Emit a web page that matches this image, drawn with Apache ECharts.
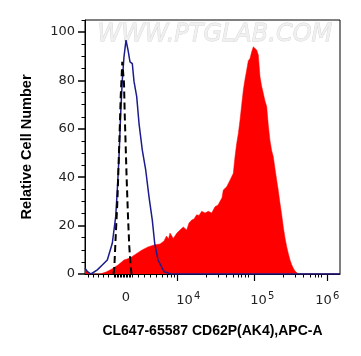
<!DOCTYPE html>
<html><head><meta charset="utf-8">
<script src="https://cdn.jsdelivr.net/npm/echarts@6/dist/echarts.min.js"></script>
<style>html,body{margin:0;padding:0;background:#fff}#c{width:361px;height:356px}</style>
</head><body><div id="c"></div>
<script>
// x in display channels (biexponential display scale), y = relative cell number
const redX = [0, 2, 4, 15, 21, 27, 33, 39, 45, 51, 57, 63, 69, 75, 79, 81.5, 83.5, 85, 88.3, 91.7, 95, 98.3, 101.7, 104, 106.7, 109, 111.7, 114, 116.7, 120, 123.3, 126.7, 130, 133, 135, 137, 138.3, 141.7, 145, 148.3, 150, 151.7, 153.3, 155, 156.7, 158.3, 160, 161.7, 163.3, 165, 166.7, 168.3, 170.3, 171.7, 173.3, 175, 176.7, 178.3, 180, 181.7, 183.3, 185, 186.7, 188.3, 190, 191.7, 193.3, 195, 196.7, 198.3, 200, 201.7, 203.3, 205, 206.7, 208.3, 210, 211.7, 213.3, 255];
const redY = [2.5, 1.0, 0, 0, 0.8, 2.1, 3.7, 5.8, 6.6, 8.3, 9.9, 11.2, 12.0, 12.4, 13.6, 15.7, 14.5, 16.9, 14.7, 16.8, 18.2, 19.4, 18.2, 21.1, 22.3, 22.7, 24.5, 24.2, 25.9, 25.2, 25.9, 25.2, 27.8, 28.5, 29.2, 31.5, 34.7, 36.1, 38.8, 41.6, 48.5, 54.0, 58.0, 63.6, 70.0, 76.0, 80.5, 84.3, 88.2, 89.1, 91.9, 93.9, 94.6, 92.6, 90.5, 81.5, 77.5, 74.7, 71.5, 69.2, 61.5, 55.1, 51.0, 48.5, 43.5, 38.8, 34.4, 29.2, 24.5, 19.4, 14.9, 11.3, 8.5, 5.8, 3.8, 2.4, 1.2, 0.5, 0, 0];

const blueX = [0, 2.5, 6, 12.3, 17, 22.3, 27.3, 30.7, 32.3, 34, 35.7, 37.3, 39, 41, 43, 45, 47.3, 49, 51.7, 54, 57.3, 60.7, 64, 67.3, 69.7, 73, 79, 85.7, 255];
const blueY = [2.4, 1.0, 0, 1.7, 3.6, 5.8, 12.7, 23.7, 34.7, 48.5, 66.4, 80.2, 89.8, 96.7, 92.6, 87.7, 87.0, 79.6, 73.3, 62.3, 51.2, 43.0, 31.9, 22.3, 12.7, 5.8, 1.0, 0, 0];

const blackX = [28.5, 29.3, 30.7, 32.3, 33.3, 34.7, 35.7, 37.3, 38.2, 39, 39.7, 40.7, 41.7, 43, 44.3, 45.7, 46.5];
const blackY = [0, 2.4, 15.6, 29.3, 41.6, 59.5, 73.3, 87.7, 88.0, 78.8, 66.4, 52.6, 38.8, 23.7, 11.3, 3.0, 0];

const xTickLabels = ['0', '10^4', '10^5', '10^6'];
const xLabelPos = [41, 103.3, 177.3, 242.3];
const xMajorTicks = [92.7, 169.5, 242];
const xMinorTicks = [3, 8, 13, 18, 23, 29, 30.5, 32, 33.5, 35, 36.5, 38, 39.5, 41, 42.5, 44, 45.5, 47, 53, 59, 65, 71, 77, 82, 86, 89.5,
  121.7, 133.3, 141.7, 148.3, 153.3, 156.7, 160, 163.3,
  198.3, 210, 218.3, 225, 230, 233.3, 236.7];
const yTickLabels = [0, 20, 40, 60, 80, 100];
const yMinorTicks = [5,10,15,25,30,35,45,50,55,65,70,75,85,90,95,105];

const zip = (a, b) => a.map((v, i) => [v, b[i]]);
const tickFont = 'DejaVu Sans';

const chart = echarts.init(document.getElementById('c'), null, {renderer: 'canvas'});
chart.setOption({
  animation: false,
  backgroundColor: '#fff',
  grid: {left: 85, right: 21, top: 20, bottom: 82, show: true, borderColor: '#000', borderWidth: 1, backgroundColor: 'transparent'},
  graphic: [{
    type: 'text', left: 97, top: 22, z: 0, silent: true,
    style: {text: 'WWW.PTGLAB.COM', font: 'italic 24px "DejaVu Sans"', fill: '#f0f0f0', stroke: '#d4d4d4', lineWidth: 0.8}
  }],
  xAxis: [{
    type: 'value', min: 0, max: 255, gridIndex: 0,
    name: 'CL647-65587 CD62P(AK4),APC-A', nameLocation: 'middle', nameGap: 50,
    nameTextStyle: {fontFamily: 'Liberation Sans', fontWeight: 'bold', fontSize: 14, color: '#000'},
    axisLine: {lineStyle: {color: '#000', width: 1}},
    splitLine: {show: false},
    axisTick: {customValues: xMajorTicks, length: 7, lineStyle: {color: '#000', width: 1.2}},
    axisLabel: {
      customValues: xLabelPos, margin: 17, color: '#222',
      formatter: function (v) {
        let idx = 0, best = 1e9;
        xLabelPos.forEach((p, i) => { if (Math.abs(p - v) < best) { best = Math.abs(p - v); idx = i; } });
        const t = xTickLabels[idx];
        if (t.indexOf('^') >= 0) { const p = t.split('^'); return '{b|' + p[0] + '}{s|' + p[1] + '}'; }
        return '{b|' + t + '}{e| }';
      },
      rich: {
        b: {fontFamily: tickFont, fontSize: 13, color: '#222'},
        s: {fontFamily: tickFont, fontSize: 10, color: '#222', padding: [0, 0, 9, 1]},
        e: {fontFamily: tickFont, fontSize: 1, color: '#222', padding: [0, 0, 9, 0]}
      }
    }
  }, {
    type: 'value', min: 0, max: 255, gridIndex: 0, position: 'bottom',
    axisLine: {show: false}, splitLine: {show: false}, axisLabel: {show: false},
    axisTick: {customValues: xMinorTicks, length: 3.5, lineStyle: {color: '#000', width: 1}}
  }],
  yAxis: [{
    type: 'value', min: 0, max: 105, gridIndex: 0,
    name: 'Relative Cell Number', nameLocation: 'middle', nameGap: 51,
    nameTextStyle: {fontFamily: 'Liberation Sans', fontWeight: 'bold', fontSize: 14.5, color: '#000'},
    axisLine: {show: true, lineStyle: {color: '#000', width: 1}},
    splitLine: {show: false},
    axisTick: {customValues: yTickLabels, length: 7, lineStyle: {color: '#000', width: 1.5}},
    axisLabel: {customValues: yTickLabels, margin: 10, color: '#222', fontFamily: tickFont, fontSize: 13}
  }, {
    type: 'value', min: 0, max: 105, gridIndex: 0, position: 'left',
    axisLine: {show: false}, splitLine: {show: false}, axisLabel: {show: false},
    axisTick: {customValues: yMinorTicks, length: 3.5, lineStyle: {color: '#000', width: 1}}
  }],
  series: [{
    type: 'line', data: zip(redX, redY), xAxisIndex: 0, yAxisIndex: 0,
    showSymbol: false, symbol: 'none', z: 2,
    lineStyle: {width: 0.5, color: '#ff0000'}, areaStyle: {color: '#ff0000', opacity: 1}
  }, {
    type: 'line', data: zip(blueX, blueY), xAxisIndex: 0, yAxisIndex: 0,
    showSymbol: false, symbol: 'none', z: 3,
    lineStyle: {width: 1.5, color: '#1c1c8c'}
  }, {
    type: 'line', data: zip(blackX, blackY), xAxisIndex: 0, yAxisIndex: 0,
    showSymbol: false, symbol: 'none', z: 4,
    lineStyle: {width: 2, color: '#000', type: [7, 4]}
  }]
});
</script></body></html>
